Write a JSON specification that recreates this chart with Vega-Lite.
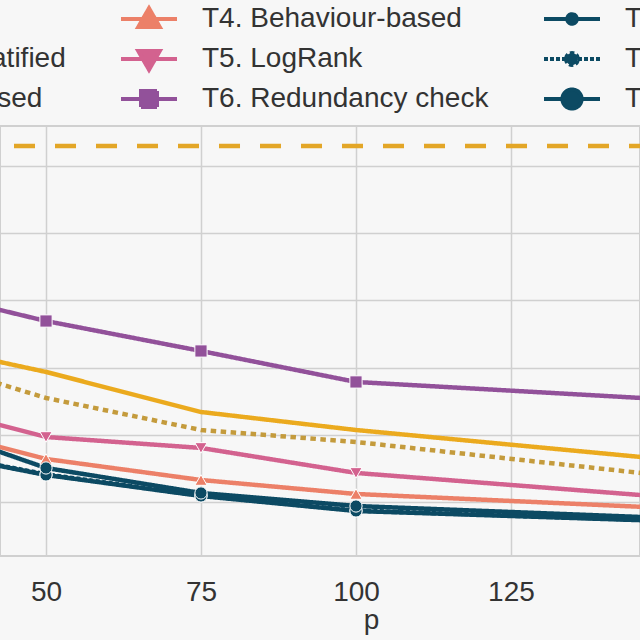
{
  "$schema": "https://vega.github.io/schema/vega-lite/v6.json",
  "width": 640,
  "height": 430,
  "autosize": {"type": "none"},
  "padding": {"left": 0, "right": 0, "top": 126, "bottom": 84},
  "background": "#f7f7f7",
  "config": {
    "font": "Liberation Sans",
    "view": {"stroke": "#d0d0d0", "strokeWidth": 2, "fill": "#f7f7f7"}
  },
  "data": {
    "values": [
      {"series": "T1. Full", "p": 25, "value": 6.298},
      {"series": "T1. Full", "p": 50, "value": 6.298},
      {"series": "T1. Full", "p": 75, "value": 6.298},
      {"series": "T1. Full", "p": 100, "value": 6.298},
      {"series": "T1. Full", "p": 150, "value": 6.298},
      {"series": "T2. Non-stratified", "p": 25, "value": 3.435},
      {"series": "T2. Non-stratified", "p": 50, "value": 2.935},
      {"series": "T2. Non-stratified", "p": 75, "value": 2.339},
      {"series": "T2. Non-stratified", "p": 100, "value": 2.071},
      {"series": "T2. Non-stratified", "p": 150, "value": 1.634},
      {"series": "T3. Rule-based", "p": 25, "value": 3.25},
      {"series": "T3. Rule-based", "p": 50, "value": 2.548},
      {"series": "T3. Rule-based", "p": 75, "value": 2.071},
      {"series": "T3. Rule-based", "p": 100, "value": 1.893},
      {"series": "T3. Rule-based", "p": 150, "value": 1.391},
      {"series": "T4. Behaviour-based", "p": 25, "value": 2.241},
      {"series": "T4. Behaviour-based", "p": 50, "value": 1.64},
      {"series": "T4. Behaviour-based", "p": 75, "value": 1.327},
      {"series": "T4. Behaviour-based", "p": 100, "value": 1.119},
      {"series": "T4. Behaviour-based", "p": 150, "value": 0.911},
      {"series": "T5. LogRank", "p": 25, "value": 2.568},
      {"series": "T5. LogRank", "p": 50, "value": 1.967},
      {"series": "T5. LogRank", "p": 75, "value": 1.804},
      {"series": "T5. LogRank", "p": 100, "value": 1.432},
      {"series": "T5. LogRank", "p": 150, "value": 1.074},
      {"series": "T6. Redundancy check", "p": 25, "value": 4.246},
      {"series": "T6. Redundancy check", "p": 50, "value": 3.693},
      {"series": "T6. Redundancy check", "p": 75, "value": 3.247},
      {"series": "T6. Redundancy check", "p": 100, "value": 2.786},
      {"series": "T6. Redundancy check", "p": 150, "value": 2.527},
      {"series": "T8. Combined (fast)", "p": 25, "value": 1.86},
      {"series": "T8. Combined (fast)", "p": 50, "value": 1.41},
      {"series": "T8. Combined (fast)", "p": 75, "value": 1.095},
      {"series": "T8. Combined (fast)", "p": 100, "value": 0.872},
      {"series": "T8. Combined (fast)", "p": 150, "value": 0.722},
      {"series": "T7. Combined", "p": 25, "value": 1.851},
      {"series": "T7. Combined", "p": 50, "value": 1.402},
      {"series": "T7. Combined", "p": 75, "value": 1.089},
      {"series": "T7. Combined", "p": 100, "value": 0.866},
      {"series": "T7. Combined", "p": 150, "value": 0.717},
      {"series": "T9. Combined (full)", "p": 25, "value": 2.31},
      {"series": "T9. Combined (full)", "p": 50, "value": 1.506},
      {"series": "T9. Combined (full)", "p": 75, "value": 1.134},
      {"series": "T9. Combined (full)", "p": 100, "value": 0.94},
      {"series": "T9. Combined (full)", "p": 150, "value": 0.762}
    ]
  },
  "layer": [
    {
      "mark": {"type": "line", "strokeWidth": 4.5, "clip": true, "strokeCap": "butt"},
      "encoding": {
        "x": {
          "field": "p", "type": "quantitative",
          "scale": {"domain": [42.58, 145.81], "nice": false, "zero": false},
          "axis": {
            "values": [50, 75, 100, 125], "grid": true, "gridColor": "#d0d0d0", "gridWidth": 1.5,
            "ticks": false, "domain": false, "labelFontSize": 28, "labelColor": "#333333",
            "labelPadding": 22, "labelFont": "Liberation Sans",
            "title": "p", "titleFontSize": 28, "titleFontWeight": "normal", "titleColor": "#333333",
            "titleFont": "Liberation Sans", "titlePadding": 0, "titleX": 371, "titleAlign": "center"
          }
        },
        "y": {
          "field": "value", "type": "quantitative",
          "scale": {"domain": [0.196, 6.595], "nice": false, "zero": false},
          "axis": {
            "values": [1, 2, 3, 4, 5, 6], "grid": true, "gridColor": "#d0d0d0", "gridWidth": 1.5,
            "labels": false, "ticks": false, "domain": false, "title": null
          }
        },
        "color": {
          "field": "series", "type": "nominal",
          "scale": {
            "domain": ["T1. Full", "T2. Non-stratified", "T3. Rule-based", "T4. Behaviour-based", "T5. LogRank", "T6. Redundancy check", "T7. Combined", "T8. Combined (fast)", "T9. Combined (full)"],
            "range": ["#e3a627", "#ebaa1e", "#c49b3c", "#ec8068", "#d3628f", "#92519a", "#0c4a63", "#0c4a63", "#0c4a63"]
          },
          "legend": {
            "title": null, "orient": "none", "legendX": -216, "legendY": -121,
            "columns": 3, "columnPadding": 47, "rowPadding": -4, "padding": 0,
            "symbolSize": 256, "symbolStrokeWidth": 4, "labelFontSize": 28, "labelOffset": 39,
            "labelLimit": 600, "labelColor": "#333333", "labelFont": "Liberation Sans",
            "encode": {
              "symbols": {
                "update": {
                  "shape": {"signal": "'M0,-1.75M0,1.75' + (substring(datum.value,0,2)==='T4' ? 'M-3.5,0H3.5M0,-1.35L1.35,1H-1.35Z' : substring(datum.value,0,2)==='T5' ? 'M-3.5,0H3.5M0,1.35L1.35,-1H-1.35Z' : substring(datum.value,0,2)==='T6' ? 'M-3.5,0H3.5M-1,-1H1V1H-1Z' : substring(datum.value,0,2)==='T7' ? 'M-3.5,0H3.5M-0.6,0A0.6,0.6,0,1,0,0.6,0A0.6,0.6,0,1,0,-0.6,0Z' : substring(datum.value,0,2)==='T8' ? 'M-3.5,0H-3M-2.75,0H-2.25M-2,0H-1.5M-1.25,0H-0.75M0.75,0H1.25M1.5,0H2M2.25,0H2.75M3,0H3.5M-0.75,0A0.75,0.75,0,1,0,0.75,0A0.75,0.75,0,1,0,-0.75,0Z' : substring(datum.value,0,2)==='T9' ? 'M-3.5,0H3.5M-1.2,0A1.2,1.2,0,1,0,1.2,0A1.2,1.2,0,1,0,-1.2,0Z' : substring(datum.value,0,2)==='T1' ? 'M-3.5,0H-2.2M-0.65,0H0.65M2.2,0H3.5' : substring(datum.value,0,2)==='T3' ? 'M-3.5,0H-3M-2.75,0H-2.25M-2,0H-1.5M-1.25,0H-0.75M-0.5,0H0M0.25,0H0.75M1,0H1.5M1.75,0H2.25M2.5,0H3M3.25,0H3.5' : 'M-3.5,0H3.5')"},
                  "fill": {"signal": "substring(datum.value,0,2) < 'T4' ? 'transparent' : scale('color', datum.value)"},
                  "stroke": {"scale": "color", "field": "value"},
                  "strokeDash": {"value": [1, 0]},
                  "strokeWidth": {"value": 4},
                  "size": {"value": 256},
                  "opacity": {"value": 1}
                }
              }
            }
          }
        },
        "strokeDash": {
          "field": "series", "type": "nominal",
          "scale": {
            "domain": ["T1. Full", "T2. Non-stratified", "T3. Rule-based", "T4. Behaviour-based", "T5. LogRank", "T6. Redundancy check", "T7. Combined", "T8. Combined (fast)", "T9. Combined (full)"],
            "range": [[21, 20], [1, 0], [5.5, 4.5], [1, 0], [1, 0], [1, 0], [1, 0], [4, 2.5], [1, 0]]
          },
          "legend": null
        }
      }
    },
    {
      "transform": [{"filter": "substring(datum.series,0,2) >= 'T4'"}],
      "mark": {"type": "point", "filled": true, "opacity": 1, "stroke": "white", "strokeWidth": 1, "clip": true},
      "encoding": {
        "x": {"field": "p", "type": "quantitative"},
        "y": {"field": "value", "type": "quantitative"},
        "color": {"field": "series", "type": "nominal"},
        "shape": {
          "field": "series", "type": "nominal",
          "scale": {
            "domain": ["T4. Behaviour-based", "T5. LogRank", "T6. Redundancy check", "T7. Combined", "T8. Combined (fast)", "T9. Combined (full)"],
            "range": ["triangle-up", "triangle-down", "square", "circle", "circle", "circle"]
          },
          "legend": null
        },
        "size": {
          "field": "series", "type": "nominal",
          "scale": {
            "domain": ["T4. Behaviour-based", "T5. LogRank", "T6. Redundancy check", "T7. Combined", "T8. Combined (fast)", "T9. Combined (full)"],
            "range": [150, 150, 160, 60, 70, 230]
          },
          "legend": null
        }
      }
    }
  ]
}
